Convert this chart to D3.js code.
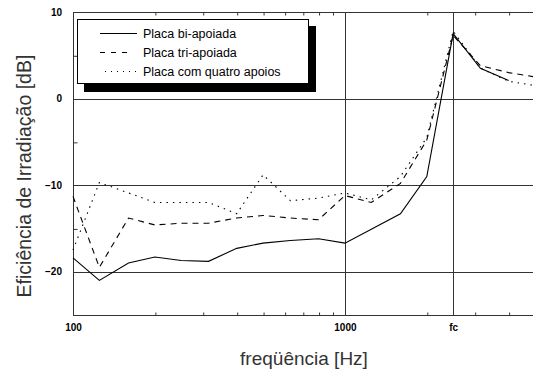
<!DOCTYPE html>
<html>
<head>
<meta charset="utf-8">
<script src="https://cdn.jsdelivr.net/npm/d3@7"></script>
<style>
  body { margin: 0; background: #fff; }
  svg { display: block; font-family: "Liberation Sans", Arial, sans-serif; }
</style>
</head>
<body>
<script>
// data (third-octave bands, dB)
var freqs = [100, 125, 160, 200, 250, 315, 400, 500, 630, 800, 1000, 1250, 1600, 2000, 2500, 3150, 4000, 5000];
var biApoiada = [-18.4, -21.0, -19.0, -18.3, -18.7, -18.8, -17.3, -16.7, -16.4, -16.2, -16.7, -15.1, -13.3, -9.0, 7.5, 3.5, 2.1, null];
var triApoiada = [-11.3, -19.5, -13.8, -14.6, -14.4, -14.4, -13.8, -13.5, -13.8, -14.0, -11.2, -12.0, -9.8, -4.8, 7.3, 3.8, 3.0, 2.5];
var quatroApoios = [-17.5, -9.7, -10.9, -12.0, -12.0, -12.0, -13.3, -8.8, -11.8, -11.5, -10.9, -11.7, -9.0, -4.5, 7.8, 3.5, 2.0, 1.5];

var seriesNames = ["Placa bi-apoiada", "Placa tri-apoiada", "Placa com quatro apoios"];
var xTickVals = [100, 1000, 2500];
var xTickText = ["100", "1000", "fc"];
var xMinor = [200, 300, 400, 500, 600, 700, 800, 900, 2000, 3000, 4000];
var yTickVals = [10, 0, -10, -20];
var yMinor = [5, -5, -15];
var yGrid = [0, -10, -20];
var xGrid = [1000, 2500];

var W = 533, H = 374;
var pLeft = 73, pRight = 535, pTop = 12, pBottom = 315;

var x = d3.scaleLog().domain([100, 5000]).range([pLeft, pRight]);
var y = d3.scaleLinear().domain([-25, 10]).range([pBottom, pTop]);

var svg = d3.select("body").append("svg")
    .attr("width", W)
    .attr("height", H);

var axisColor = "#333";
var labelFont = "'Liberation Sans', Arial, sans-serif";

// grid lines
svg.selectAll("line.hgrid")
  .data(yGrid)
  .enter().append("line")
    .attr("class", "hgrid")
    .attr("x1", pLeft).attr("x2", W)
    .attr("y1", function(d) { return Math.round(y(d)) + 0.5; })
    .attr("y2", function(d) { return Math.round(y(d)) + 0.5; })
    .attr("stroke", axisColor);

svg.selectAll("line.vgrid")
  .data(xGrid)
  .enter().append("line")
    .attr("class", "vgrid")
    .attr("y1", pTop).attr("y2", pBottom)
    .attr("x1", function(d) { return Math.round(x(d)) + 0.5; })
    .attr("x2", function(d) { return Math.round(x(d)) + 0.5; })
    .attr("stroke", axisColor);

// frame: left, bottom, top
svg.append("line").attr("x1", pLeft + 0.5).attr("x2", pLeft + 0.5).attr("y1", pTop).attr("y2", pBottom + 1).attr("stroke", axisColor);
svg.append("line").attr("x1", pLeft).attr("x2", W).attr("y1", pBottom + 0.5).attr("y2", pBottom + 0.5).attr("stroke", axisColor);
svg.append("line").attr("x1", pLeft).attr("x2", W).attr("y1", pTop + 0.5).attr("y2", pTop + 0.5).attr("stroke", axisColor);

// minor ticks (inside)
svg.append("g")
    .attr("transform", "translate(0.5," + (pBottom + 0.5) + ")")
    .call(d3.axisBottom(x).tickValues(xMinor).tickSize(-3).tickFormat(""))
    .call(function(g) { g.select(".domain").remove(); g.selectAll("line").attr("stroke", axisColor); });

svg.append("g")
    .attr("transform", "translate(0.5," + (pTop + 0.5) + ")")
    .call(d3.axisTop(x).tickValues(xMinor).tickSize(-3).tickFormat(""))
    .call(function(g) { g.select(".domain").remove(); g.selectAll("line").attr("stroke", axisColor); });

svg.append("g")
    .attr("transform", "translate(" + (pLeft + 0.5) + ",0.5)")
    .call(d3.axisLeft(y).tickValues(yMinor).tickSize(-4).tickFormat(""))
    .call(function(g) { g.select(".domain").remove(); g.selectAll("line").attr("stroke", axisColor); });

// tick labels
svg.append("g")
    .attr("transform", "translate(0," + pBottom + ")")
    .call(d3.axisBottom(x).tickValues(xTickVals).tickSize(0).tickPadding(9)
      .tickFormat(function(d) { return xTickText[xTickVals.indexOf(d)]; }))
    .call(function(g) {
      g.select(".domain").remove();
      g.selectAll("text").attr("fill", "#000").style("font-size", "10px").style("font-weight", "bold")
        .style("font-family", labelFont);
    });

svg.append("g")
    .attr("transform", "translate(" + pLeft + ",0)")
    .call(d3.axisLeft(y).tickValues(yTickVals).tickSize(0).tickPadding(11))
    .call(function(g) {
      g.select(".domain").remove();
      g.selectAll("text").attr("fill", "#000").style("font-size", "10px").style("font-weight", "bold")
        .style("font-family", labelFont);
    });

// curves
var line = d3.line()
    .defined(function(d) { return d[1] != null; })
    .x(function(d) { return x(d[0]); })
    .y(function(d) { return y(d[1]); });

var series = [biApoiada, triApoiada, quatroApoios];
var dashes = [null, "6,5", "1.5,5"];

svg.selectAll("path.curve")
  .data(series)
  .enter().append("path")
    .attr("class", "curve")
    .attr("d", function(s) { return line(freqs.map(function(f, i) { return [f, s[i]]; })); })
    .attr("fill", "none")
    .attr("stroke", "#000")
    .attr("stroke-width", 1.1)
    .attr("stroke-dasharray", function(d, i) { return dashes[i]; });

// legend with drop shadow
svg.append("rect").attr("x", 84).attr("y", 26).attr("width", 232).attr("height", 66).attr("fill", "#000");
svg.append("rect").attr("x", 77.5).attr("y", 19.5).attr("width", 231).attr("height", 64)
    .attr("fill", "#fff").attr("stroke", "#000");

var legDash = [null, "5,6", "1,5"];
var legX1 = [100, 100, 105];
var legX2 = [137, 129, 137];

var leg = svg.selectAll("g.leg")
  .data(seriesNames)
  .enter().append("g")
    .attr("class", "leg")
    .attr("transform", function(d, i) { return "translate(0," + (33 + i * 19) + ")"; });

leg.append("line")
    .attr("x1", function(d, i) { return legX1[i]; })
    .attr("x2", function(d, i) { return legX2[i]; })
    .attr("y1", 0.5).attr("y2", 0.5)
    .attr("stroke", "#000")
    .attr("stroke-dasharray", function(d, i) { return legDash[i]; });

leg.append("text")
    .attr("x", 143)
    .attr("y", 5)
    .style("font-size", "12.5px")
    .text(function(d) { return d; });

// axis titles
svg.append("text")
    .attr("x", 304)
    .attr("y", 365)
    .attr("text-anchor", "middle")
    .style("font-size", "19px")
    .attr("fill", "#333")
    .text("freqüência [Hz]");

svg.append("text")
    .attr("transform", "translate(31,176) rotate(-90)")
    .attr("text-anchor", "middle")
    .style("font-size", "19.5px")
    .attr("fill", "#333")
    .text("Eficiência de Irradiação [dB]");
</script>
</body>
</html>
